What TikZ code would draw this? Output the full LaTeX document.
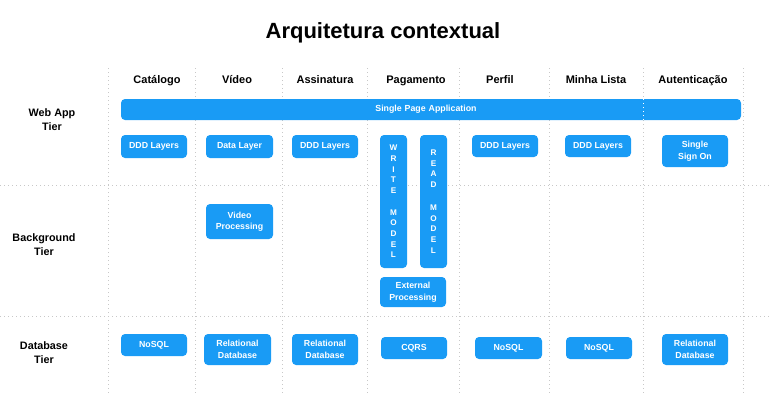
\documentclass[tikz,border=0pt]{standalone}
\usepackage{fontspec}
\setmainfont{Liberation Sans}
\usetikzlibrary{positioning}
\definecolor{appblue}{RGB}{25,155,245}
\definecolor{gridgray}{RGB}{200,200,200}

\begin{document}
\begin{tikzpicture}[x=1pt, y=-1pt,
    title/.style={font=\bfseries\fontsize{22}{26}\selectfont, anchor=base},
    header/.style={font=\bfseries\fontsize{11}{13}\selectfont, anchor=base},
    tier/.style={font=\bfseries\fontsize{10.8}{14}\selectfont, align=center},
    block/.style={rectangle, rounded corners=4pt, fill=appblue, text=white, font=\bfseries\fontsize{8.8}{11.5}\selectfont, align=center, inner sep=0pt, minimum width=66pt, minimum height=23pt},
    model/.style={block, minimum width=27pt, minimum height=133pt, font=\bfseries\fontsize{8.2}{10.7}\selectfont},
    gridline/.style={gridgray, line width=1pt, dash pattern=on 1pt off 3pt}
]
\useasboundingbox (0,0) rectangle (772,410);

% Grid (columns and tiers)
\draw[gridline] (0,185) -- (772,185);
\draw[gridline] (0,316) -- (772,316);
\draw[gridline] (108,68) -- (108,395);
\draw[gridline] (195,68) -- (195,395);
\draw[gridline] (282,68) -- (282,395);
\draw[gridline] (367,68) -- (367,395);
\draw[gridline] (459,68) -- (459,395);
\draw[gridline] (549,68) -- (549,395);
\draw[gridline] (643,68) -- (643,395);
\draw[gridline] (743,68) -- (743,395);

% Title
\node[title] (title) at (383,38) {Arquitetura contextual};

% Column headers
\node[header] (h_cat) at (157,83.5) {Catálogo};
\node[header] (h_vid) at (237,83.5) {Vídeo};
\node[header] (h_ass) at (325,83.5) {Assinatura};
\node[header] (h_pag) at (416,83.5) {Pagamento};
\node[header] (h_per) at (500,83.5) {Perfil};
\node[header] (h_min) at (596,83.5) {Minha Lista};
\node[header] (h_aut) at (693,83.5) {Autenticação};

% Tier labels
\node[tier] (t_web) at (52,120) {Web App\\Tier};
\node[tier] (t_bg) at (44,245) {Background\\Tier};
\node[tier] (t_db) at (44,353) {Database\\Tier};

% Web App tier
\node[block, minimum width=620pt, minimum height=21pt, text width=620pt] (spa) at (431,109.5) {\hspace*{-10pt}Single Page Application};
\draw[white, line width=1pt, dash pattern=on 1pt off 3pt] (643,99) -- (643,120); % grid shows through the bar
\node[block] (cat_web) at (154,146.5) {DDD Layers};
\node[block, minimum width=67pt] (vid_web) at (239.5,146.5) {Data Layer};
\node[block] (ass_web) at (325,146.5) {DDD Layers};
\node[model] (write) at (393.5,201.5) {W\\R\\I\\T\\E\\[10.7pt]M\\O\\D\\E\\L};
\node[model] (read) at (433.5,201.5) {R\\E\\A\\D\\[12pt]M\\O\\D\\E\\L};
\node[block, minimum height=22pt] (per_web) at (505,146) {DDD Layers};
\node[block, minimum height=22pt] (min_web) at (598,146) {DDD Layers};
\node[block, minimum height=32pt] (aut_web) at (695,151) {Single\\Sign On};

% Background tier
\node[block, minimum width=67pt, minimum height=35pt] (vid_bg) at (239.5,221.5) {Video\\Processing};
\node[block, minimum height=30pt] (pag_bg) at (413,292) {External\\Processing};

% Database tier
\node[block, minimum height=22pt] (cat_db) at (154,345) {NoSQL};
\node[block, minimum width=67pt, minimum height=31pt] (vid_db) at (237.5,349.5) {Relational\\Database};
\node[block, minimum height=31pt] (ass_db) at (325,349.5) {Relational\\Database};
\node[block, minimum height=22pt] (pag_db) at (414,348) {CQRS};
\node[block, minimum width=67pt, minimum height=22pt] (per_db) at (508.5,348) {NoSQL};
\node[block, minimum height=22pt] (min_db) at (599,348) {NoSQL};
\node[block, minimum height=31pt] (aut_db) at (695,349.5) {Relational\\Database};

\end{tikzpicture}
\end{document}
